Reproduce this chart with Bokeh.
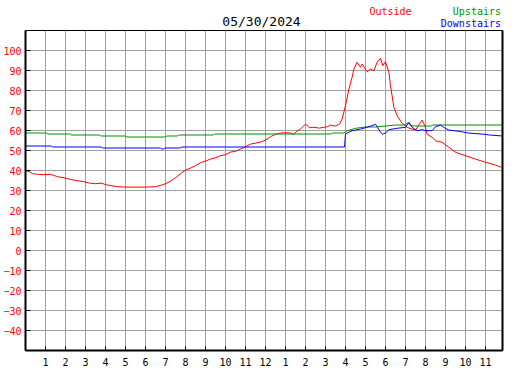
from bokeh.plotting import figure
from bokeh.layouts import column
from bokeh.models import FixedTicker, Range1d, LinearAxis, ColumnDataSource
from bokeh.core.properties import value
from bokeh.embed import file_html
from bokeh.resources import INLINE

# ---- data (hour of day, temperature) ----
outside_hours = [0.0, 0.2, 0.35, 0.6, 0.9, 1.2, 1.4, 1.6, 2.0, 2.3, 2.6, 2.9, 3.2, 3.5, 3.8, 4.0,
                 4.3, 4.6, 5.0, 5.5, 6.0, 6.5, 6.8, 7.0, 7.25, 7.5, 7.75, 8.0, 8.25, 8.5, 8.75,
                 9.0, 9.25, 9.5, 9.75, 10.0, 10.25, 10.5, 10.75, 11.0, 11.25, 11.5, 11.75, 12.0,
                 12.25, 12.5, 12.75, 13.0, 13.25, 13.4, 13.6, 13.75, 14.0, 14.2, 14.4, 14.7,
                 14.9, 15.1, 15.25, 15.5, 15.7, 15.83, 16.0, 16.17, 16.33, 16.42, 16.58, 16.75,
                 16.83, 17.08, 17.25, 17.42, 17.58, 17.75, 17.87, 18.0, 18.17, 18.25, 18.42,
                 18.58, 18.83, 19.08, 19.33, 19.5, 19.67, 19.83, 19.97, 20.08, 20.33, 20.5,
                 20.83, 21.17, 21.5, 22.0, 22.5, 23.0, 23.5, 23.8]
outside_temps = [39.9, 39.4, 38.4, 38.1, 37.9, 38.1, 37.6, 36.9, 36.2, 35.4, 34.9, 34.4, 33.7,
                 33.4, 33.7, 32.9, 32.4, 31.9, 31.7, 31.7, 31.7, 31.9, 32.7, 33.4, 34.6, 36.4,
                 38.4, 40.2, 41.2, 42.4, 43.9, 44.7, 45.7, 46.4, 47.4, 47.9, 49.2, 49.6, 50.7,
                 51.9, 53.2, 53.7, 54.2, 55.2, 56.9, 58.1, 58.7, 58.9, 58.7, 58.1, 59.9, 60.7,
                 63.2, 61.4, 61.6, 61.2, 61.6, 61.9, 62.7, 62.2, 63.2, 65.7, 72.4, 80.7, 86.6,
                 90.7, 94.1, 91.6, 93.2, 89.4, 90.7, 89.9, 94.1, 96.1, 92.4, 94.4, 89.1, 82.4,
                 71.6, 67.4, 63.6, 61.6, 60.7, 60.2, 62.9, 65.2, 62.4, 58.2, 56.6, 54.9, 54.1,
                 51.6, 49.1, 47.4, 45.7, 44.1, 42.7, 41.6]

upstairs_hours = [0.0, 1.05, 1.1, 2.15, 2.2, 2.3, 3.7, 3.75, 5.0, 5.05, 7.0, 7.05, 7.6, 7.65,
                  9.4, 9.45, 15.3, 15.35, 15.9, 16.0, 16.1, 16.5, 17.0, 17.5, 18.0, 18.5,
                  19.0, 19.1, 19.25, 19.5, 20.3, 20.35, 23.85]
upstairs_temps = [58.75, 58.75, 58.25, 58.25, 58.5, 57.75, 57.75, 57.25, 57.25, 56.75, 56.75,
                  57.25, 57.25, 57.75, 57.75, 58.25, 58.25, 58.75, 58.75, 59.4, 59.9, 61.1,
                  61.75, 61.75, 62.25, 62.75, 62.75, 63.9, 62.4, 62.25, 62.25, 62.75, 62.75]

downstairs_hours = [0.0, 1.3, 1.35, 3.8, 3.85, 6.75, 6.8, 6.9, 6.95, 7.75, 7.8, 15.95, 16.0,
                    16.08, 16.33, 16.75, 17.17, 17.5, 17.6, 17.75, 17.85, 18.0, 18.17, 18.58,
                    19.0, 19.17, 19.33, 19.58, 19.83, 20.0, 20.33, 20.5, 20.75, 20.9, 21.17,
                    21.67, 22.17, 22.83, 23.2, 23.85]
downstairs_temps = [52.25, 52.25, 51.75, 51.75, 51.25, 51.25, 50.75, 50.75, 51.25, 51.25, 51.75,
                    51.75, 58.2, 58.7, 59.9, 60.7, 61.9, 63.1, 61.6, 59.1, 58.2, 58.7, 60.4,
                    61.1, 61.6, 64.1, 61.6, 59.9, 60.4, 59.9, 59.9, 61.9, 62.7, 61.6, 60.2,
                    59.6, 58.7, 58.2, 57.75, 57.25]

x_ticks = list(range(1, 24))
x_tick_labels = ["1", "2", "3", "4", "5", "6", "7", "8", "9", "10", "11", "12",
                 "1", "2", "3", "4", "5", "6", "7", "8", "9", "10", "11"]
y_ticks = [-40, -30, -20, -10, 0, 10, 20, 30, 40, 50, 60, 70, 80, 90, 100]

title_text = "05/30/2024"
series_names = ["Outside", "Upstairs", "Downstairs"]
series_colors = ["#ff0000", "#009000", "#0000ff"]

MONO = "DejaVu Sans Mono"
W = 527

# ---- header strip: date title and coloured series names ----
# (its frame is aligned with the chart frame, which spans page x 25..502)
header = figure(width=W, height=28, output_backend="svg", toolbar_location=None,
                x_range=Range1d(25, 502), y_range=Range1d(28, 0),
                x_axis_type=None, y_axis_type=None,
                min_border=0, min_border_left=0, min_border_right=0,
                min_border_top=0, min_border_bottom=0)
header.outline_line_color = None
header.grid.visible = False
header.background_fill_color = "white"
header.border_fill_color = "white"
head_src = ColumnDataSource(dict(
    x=[261, 369, 500.5, 500.5],
    y=[20.5, 11, 11, 23],
    text=[title_text, series_names[0], series_names[1], series_names[2]],
    color=["black", series_colors[0], series_colors[1], series_colors[2]],
    align=["center", "left", "right", "right"],
    size=["13px", "10px", "10px", "10px"],
))
header.text(x="x", y="y", text="text", source=head_src, text_color="color",
            text_align="align", text_baseline="middle", text_font=value(MONO),
            text_font_size="size")

# ---- main chart ----
p = figure(width=W, height=342, output_backend="svg", toolbar_location=None,
           x_range=Range1d(0, 23.85), y_range=Range1d(-50, 110),
           min_border_left=25, min_border_right=25, min_border_top=2, min_border_bottom=20)
p.background_fill_color = "white"
p.border_fill_color = "white"
p.outline_line_color = "black"
p.outline_line_width = 1

p.line(outside_hours, outside_temps, color=series_colors[0], line_width=1)
p.line(upstairs_hours, upstairs_temps, color=series_colors[1], line_width=1)
p.line(downstairs_hours, downstairs_temps, color=series_colors[2], line_width=1)

p.xaxis.ticker = FixedTicker(ticks=x_ticks)
p.xgrid.ticker = FixedTicker(ticks=x_ticks)
p.xaxis.major_label_overrides = {t: l for t, l in zip(x_ticks, x_tick_labels)}
p.yaxis.ticker = FixedTicker(ticks=y_ticks)
p.ygrid.ticker = FixedTicker(ticks=y_ticks)

for ax in (p.xaxis[0], p.yaxis[0]):
    ax.axis_line_color = "black"
    ax.axis_line_width = 2
    ax.major_tick_in = 5
    ax.major_tick_out = 0
    ax.minor_tick_in = 0
    ax.minor_tick_out = 0
    ax.major_tick_line_color = "black"
    ax.major_label_text_font = MONO
    ax.major_label_text_font_size = "10px"
p.xaxis.major_tick_in = 4
p.xaxis.major_label_standoff = 7
p.yaxis.major_label_standoff = 4
p.xaxis.major_label_text_color = "black"
p.yaxis.major_label_text_color = "#ff0000"

# thicker right border of the frame
right_axis = LinearAxis(ticker=FixedTicker(ticks=[]), axis_line_color="black", axis_line_width=2,
                        major_tick_in=0, major_tick_out=0, minor_tick_in=0, minor_tick_out=0,
                        major_label_text_font_size="0px")
p.add_layout(right_axis, "right")

for g in (p.xgrid[0], p.ygrid[0]):
    g.grid_line_color = "#a0a0a0"
    g.grid_line_width = 1
    g.grid_line_alpha = 1.0

layout = column(header, p, spacing=0)
open("out.html", "w").write(file_html(layout, INLINE))
